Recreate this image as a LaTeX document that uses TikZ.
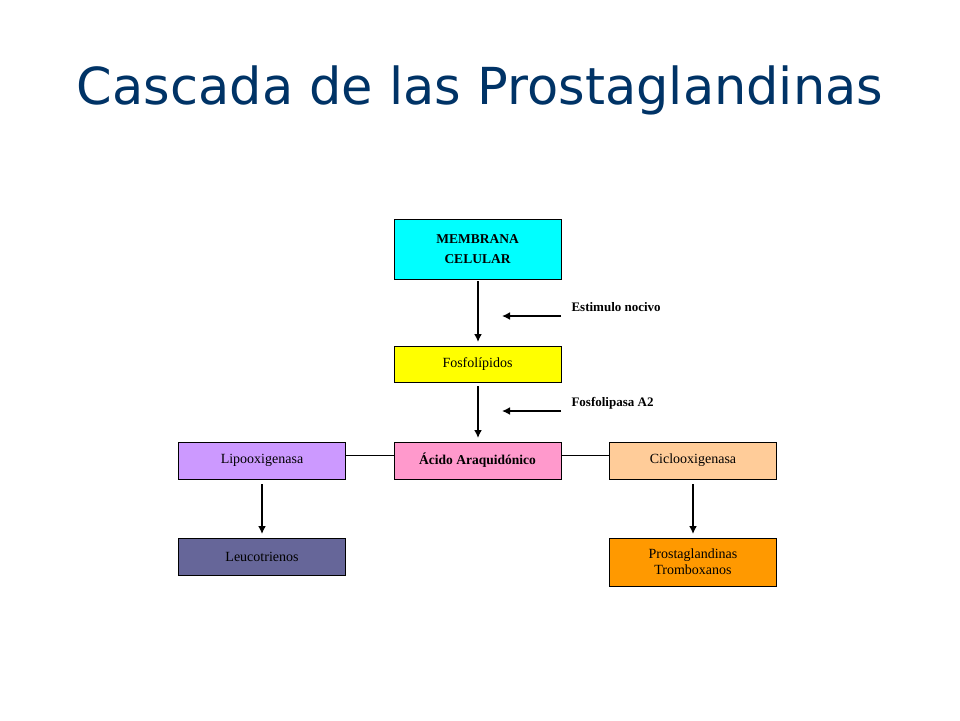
\documentclass[tikz,border=0pt]{standalone}
\usepackage{fontspec}
\setmainfont{Liberation Serif}
\newfontfamily\titlefont{DejaVu Sans}
\usetikzlibrary{arrows.meta}
\definecolor{titleblue}{HTML}{003366}
\begin{document}
\begin{tikzpicture}[x=1pt,y=-1pt,
  box/.style={draw=black,line width=0.6pt,minimum width=167pt,inner sep=1pt,align=center,font=\fontsize{14}{16}\selectfont},
  arr/.style={line width=2pt,-{Latex[length=8pt,width=8pt]}},
  lbl/.style={anchor=west,font=\bfseries\fontsize{13}{15}\selectfont}]
\useasboundingbox[fill=white] (0,0) rectangle (960,720);
\node[font=\titlefont\fontsize{51}{58}\selectfont,text=titleblue] (title) at (480,90) {Cascada de las Prostaglandinas};
\node[box,fill={rgb,255:red,0;green,255;blue,255},minimum height=60pt,font=\bfseries\fontsize{13.5}{20}\selectfont] (mem) at (477.5,249) {MEMBRANA\\CELULAR};
\node[box,fill={rgb,255:red,255;green,255;blue,0},minimum height=36pt] (fos) at (477.5,364) {Fosfolípidos};
\node[box,fill={rgb,255:red,255;green,153;blue,204},minimum height=37pt,font=\bfseries\fontsize{13.5}{15}\selectfont] (aci) at (477.5,460.5) {Ácido Araquidónico};
\node[box,fill={rgb,255:red,204;green,153;blue,255},minimum height=37pt] (lip) at (262,460.5) {Lipooxigenasa};
\node[box,fill={rgb,255:red,255;green,204;blue,153},minimum height=37pt] (cic) at (693,460.5) {Ciclooxigenasa};
\node[box,fill={rgb,255:red,102;green,102;blue,153},minimum height=37pt] (leu) at (262,556.5) {Leucotrienos};
\node[box,fill={rgb,255:red,255;green,153;blue,0},minimum height=48pt] (pro) at (693,562) {Prostaglandinas\\Tromboxanos};
\coordinate (a1) at (478,281); \coordinate (a2) at (478,342);
\coordinate (b1) at (478,386); \coordinate (b2) at (478,438);
\coordinate (e1) at (561,316); \coordinate (e2) at (502,316);
\coordinate (f1) at (561,411); \coordinate (f2) at (502,411);
\coordinate (l1) at (262,484); \coordinate (l2) at (262,534);
\coordinate (c1) at (693,484); \coordinate (c2) at (693,534);
\draw[arr] (a1) -- (a2);
\draw[arr] (b1) -- (b2);
\draw[arr] (e1) -- (e2);
\draw[arr] (f1) -- (f2);
\draw[arr] (l1) -- (l2);
\draw[arr] (c1) -- (c2);
\node[lbl] (est) at (568,307) {Estimulo nocivo};
\node[lbl] (fla) at (568,403) {Fosfolipasa A2};
\draw[line width=0.6pt] (aci.west |- 0,455) -- (lip.east |- 0,455);
\draw[line width=0.6pt] (aci.east |- 0,455) -- (cic.west |- 0,455);
\end{tikzpicture}
\end{document}
